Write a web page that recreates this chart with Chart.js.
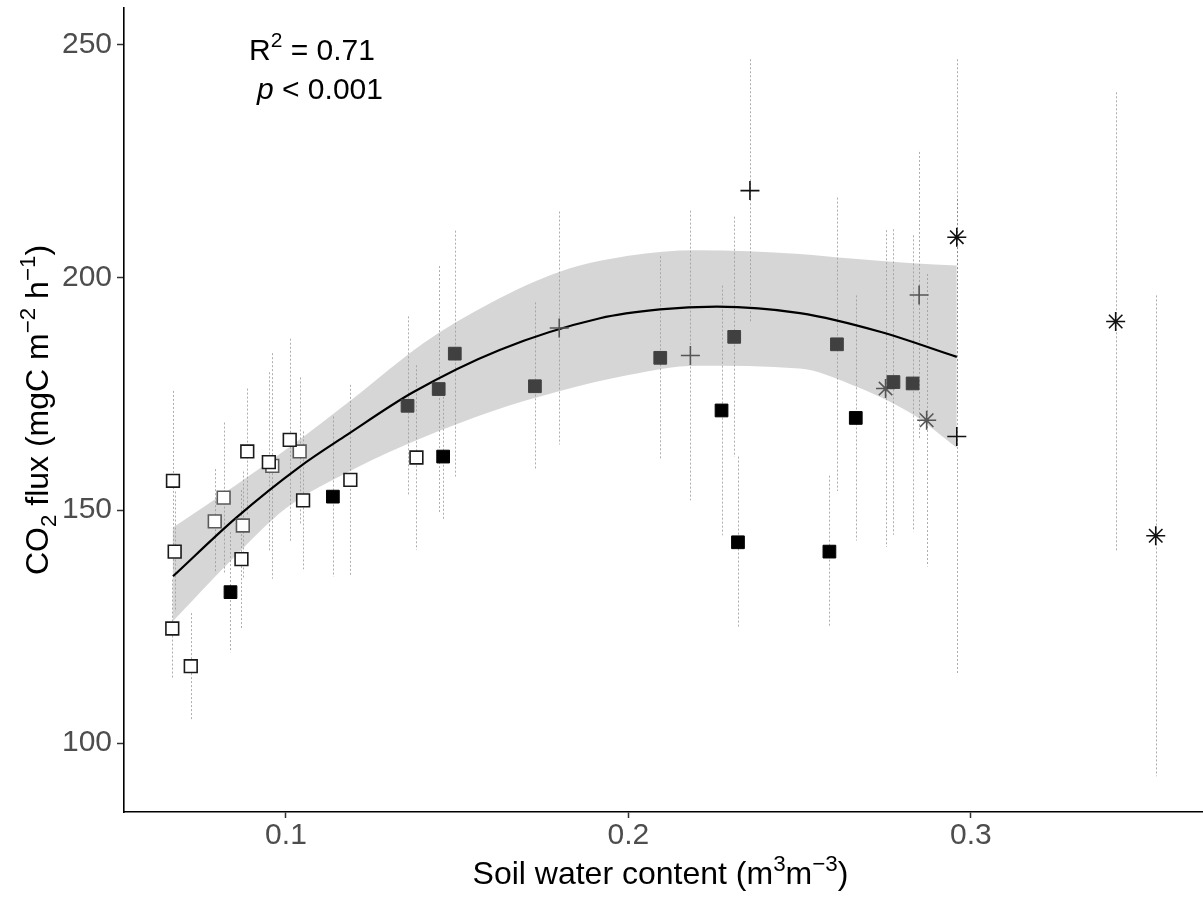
<!DOCTYPE html>
<html>
<head>
<meta charset="utf-8">
<script src="https://cdn.jsdelivr.net/npm/chart.js@4.4.1/dist/chart.umd.min.js"></script>
<style>
  html, body { margin: 0; padding: 0; overflow: hidden; background: #fff; }
  #grafico { display: block; }
</style>
</head>
<body>
<canvas id="grafico" width="1203" height="897"></canvas>
<script>
// valores
var xTicks = [0.1, 0.2, 0.3];
var yTicks = [100, 150, 200, 250];

// quadrados abertos, contorno escuro
var abertoX  = [0.0670, 0.0675, 0.0668, 0.0722, 0.0870, 0.0887, 0.0950, 0.1011, 0.1050, 0.1188, 0.1381];
var abertoY  = [156.3, 141.1, 124.6, 116.5, 139.5, 162.6, 160.3, 165.1, 152.1, 156.5, 161.3];
var abertoSD = [19.3, 12.9, 10.5, 11.4, 14.8, 13.5, 19.3, 21.7, 14.8, 20.4, 19.8];

// quadrados abertos, contorno cinza
var aberto2X  = [0.0818, 0.0792, 0.0874, 0.0960, 0.1040];
var aberto2Y  = [152.7, 147.6, 146.7, 159.5, 162.6];
var aberto2SD = [16.1, 11.2, 11.6, 24.2, 15.9];

// quadrados pretos
var pretoX  = [0.0838, 0.1137, 0.1459, 0.2272, 0.2320, 0.2587, 0.2664];
var pretoY  = [132.4, 152.9, 161.5, 171.4, 143.1, 141.1, 169.8];
var pretoSD = [12.9, 17.2, 13.7, 26.8, 18.4, 16.3, 26.3];

// quadrados cinza escuro
var cinzaX  = [0.1355, 0.1446, 0.1493, 0.1727, 0.2093, 0.2309, 0.2609, 0.2774, 0.2830];
var cinzaY  = [172.4, 176.0, 183.6, 176.6, 182.7, 187.2, 185.6, 177.5, 177.2];
var cinzaSD = [19.2, 26.4, 26.4, 18.0, 21.8, 25.8, 31.5, 32.8, 31.8];

// cruzes
var cruzX  = [0.2355, 0.2959];
var cruzY  = [218.6, 165.8];
var cruzSD = [28.2, 51.0];
var cruz2X  = [0.1798, 0.2181, 0.2849];
var cruz2Y  = [189.1, 183.2, 196.2];
var cruz2SD = [25.0, 31.1, 30.7];

// asteriscos
var astX  = [0.2959, 0.3423, 0.3540];
var astY  = [208.6, 190.5, 144.5];
var astSD = [38.2, 49.2, 51.6];
var ast2X  = [0.2751, 0.2871];
var ast2Y  = [176.1, 169.3];
var ast2SD = [34.0, 31.4];

// curva ajustada e intervalo de confianca
var ajusteX = [0.0670, 0.0855, 0.1040, 0.1177, 0.1371, 0.1624, 0.1917, 0.2092, 0.2258, 0.2501, 0.2735, 0.2959];
var ajusteY = [135.8, 148.4, 159.3, 166.1, 175.3, 184.4, 191.2, 193.1, 193.7, 192.3, 188.3, 182.9];
var bandaX  = [0.0669, 0.085, 0.100, 0.120, 0.140, 0.160, 0.180, 0.200, 0.220, 0.250, 0.265, 0.283, 0.2959];
var bandaSup = [146.2, 155.2, 163.0, 174.2, 185.8, 194.6, 201.2, 204.6, 205.8, 205.0, 204.0, 203.0, 202.5];
var bandaInf = [126.1, 140.0, 150.4, 158.9, 165.6, 171.2, 175.6, 179.0, 181.0, 180.4, 177.0, 170.6, 163.4];

var FONTE = '"Liberation Sans", Arial, sans-serif';

function Pares(xs, ys) {
    var out = [];
    for (var i = 0; i < xs.length; i++) {
        out.push({ x: xs[i], y: ys[i] });
    }
    return out;
}

function Pontos(xs, ys, sd, estilo, fundo, borda, raio, largura) {
    return {
        data: Pares(xs, ys),
        sd: sd,
        showLine: false,
        pointStyle: estilo,
        pointRadius: raio,
        pointHoverRadius: raio,
        pointBackgroundColor: fundo,
        pointBorderColor: borda,
        pointBorderWidth: largura
    };
}

// barras de erro pontilhadas
var barrasErro = {
    id: 'barrasErro',
    beforeDatasetsDraw: function (chart) {
        var ctx = chart.ctx;
        var xs = chart.scales.x, ys = chart.scales.y;
        ctx.save();
        ctx.strokeStyle = 'rgba(120,120,120,0.6)';
        ctx.lineWidth = 1;
        ctx.setLineDash([2, 2]);
        chart.data.datasets.forEach(function (ds) {
            if (!ds.sd) return;
            ds.data.forEach(function (p, i) {
                var px = Math.round(xs.getPixelForValue(p.x)) + 0.5;
                ctx.beginPath();
                ctx.moveTo(px, ys.getPixelForValue(p.y + ds.sd[i]));
                ctx.lineTo(px, ys.getPixelForValue(p.y - ds.sd[i]));
                ctx.stroke();
            });
        });
        ctx.restore();
    }
};

function DesenharTexto(ctx, partes, x, y, tam, centro) {
    var total = 0;
    partes.forEach(function (p) {
        var t = (p.sup || p.sub) ? tam * 0.7 : tam;
        p.f = (p.it ? 'italic ' : '') + t + 'px ' + FONTE;
        ctx.font = p.f;
        p.w = ctx.measureText(p.t).width;
        total += p.w;
    });
    var cx = centro ? x - total / 2 : x;
    partes.forEach(function (p) {
        var dy = p.sup ? -tam * 0.42 : (p.sub ? tam * 0.25 : 0);
        ctx.font = p.f;
        ctx.fillText(p.t, cx, y + dy);
        cx += p.w;
    });
}

var textos = {
    id: 'textos',
    afterDraw: function (chart) {
        var ctx = chart.ctx;
        var area = chart.chartArea;
        ctx.save();
        ctx.fillStyle = '#000';
        ctx.textBaseline = 'alphabetic';
        ctx.textAlign = 'left';

        DesenharTexto(ctx, [{ t: 'R' }, { t: '2', sup: true }, { t: ' = 0.71' }], 249, 60, 30, false);
        DesenharTexto(ctx, [{ t: 'p', it: true }, { t: ' < 0.001' }], 257, 99, 30, false);

        // titulo eixo x
        DesenharTexto(ctx, [{ t: 'Soil water content (m' }, { t: '3', sup: true }, { t: 'm' }, { t: '\u22123', sup: true }, { t: ')' }],
            (area.left + area.right) / 2 - 3, 884, 32, true);

        // titulo eixo y
        ctx.translate(48, (area.top + area.bottom) / 2);
        ctx.rotate(-Math.PI / 2);
        DesenharTexto(ctx, [{ t: 'CO' }, { t: '2', sub: true }, { t: ' flux (mgC m' }, { t: '\u22122', sup: true }, { t: ' h' }, { t: '\u22121', sup: true }, { t: ')' }],
            0, 0, 32, true);
        ctx.restore();
    }
};

var datasets = [
    Pontos(abertoX, abertoY, abertoSD, 'rect', '#ffffff', '#1a1a1a', 9, 1.6),
    Pontos(aberto2X, aberto2Y, aberto2SD, 'rect', '#ffffff', '#5a5a5a', 9, 1.6),
    Pontos(pretoX, pretoY, pretoSD, 'rect', '#000000', '#000000', 9, 1),
    Pontos(cinzaX, cinzaY, cinzaSD, 'rect', '#404040', '#404040', 9, 1),
    Pontos(cruzX, cruzY, cruzSD, 'cross', '#000000', '#111111', 9.5, 1.6),
    Pontos(cruz2X, cruz2Y, cruz2SD, 'cross', '#555555', '#555555', 9.5, 1.6),
    Pontos(astX, astY, astSD, 'star', '#000000', '#111111', 9.5, 1.6),
    Pontos(ast2X, ast2Y, ast2SD, 'star', '#555555', '#555555', 9.5, 1.6),
    {
        data: Pares(ajusteX, ajusteY),
        borderColor: '#000000',
        borderWidth: 2.2,
        pointRadius: 0,
        cubicInterpolationMode: 'monotone',
        fill: false
    },
    {
        data: Pares(bandaX, bandaSup),
        borderWidth: 0,
        borderColor: 'rgba(0,0,0,0)',
        backgroundColor: 'rgba(153,153,153,0.4)',
        pointRadius: 0,
        cubicInterpolationMode: 'monotone',
        fill: '+1'
    },
    {
        data: Pares(bandaX, bandaInf),
        borderWidth: 0,
        borderColor: 'rgba(0,0,0,0)',
        pointRadius: 0,
        cubicInterpolationMode: 'monotone',
        fill: false
    }
];

new Chart(document.getElementById('grafico'), {
    type: 'line',
    data: { datasets: datasets },
    plugins: [barrasErro, textos],
    options: {
        responsive: false,
        animation: false,
        devicePixelRatio: 1,
        layout: { autoPadding: false, padding: { top: 8, right: 0, left: 0, bottom: 0 } },
        plugins: {
            legend: { display: false },
            tooltip: { enabled: false }
        },
        scales: {
            x: {
                type: 'linear',
                min: 0.0527,
                max: 0.3678,
                afterBuildTicks: function (s) {
                    s.ticks = xTicks.map(function (v) { return { value: v }; });
                },
                afterFit: function (s) {
                    s.height = 85;
                    s.paddingLeft = 0;
                    s.paddingRight = 0;
                },
                ticks: {
                    color: '#4d4d4d',
                    font: { family: FONTE, size: 30 },
                    padding: 0,
                    maxRotation: 0,
                    callback: function (v) { return String(v); }
                },
                grid: { drawOnChartArea: false, tickLength: 6, tickColor: '#333333', tickWidth: 1.5 },
                border: { display: true, color: '#000000', width: 1.6 }
            },
            y: {
                min: 85.2,
                max: 257.8,
                afterBuildTicks: function (s) {
                    s.ticks = yTicks.map(function (v) { return { value: v }; });
                },
                afterFit: function (s) {
                    s.width = 124;
                    s.paddingTop = 0;
                    s.paddingBottom = 0;
                },
                ticks: {
                    color: '#4d4d4d',
                    font: { family: FONTE, size: 30 },
                    padding: 5,
                    callback: function (v) { return String(v); }
                },
                grid: { drawOnChartArea: false, tickLength: 7, tickColor: '#333333', tickWidth: 1.5 },
                border: { display: true, color: '#000000', width: 1.6 }
            }
        }
    }
});
</script>
</body>
</html>
